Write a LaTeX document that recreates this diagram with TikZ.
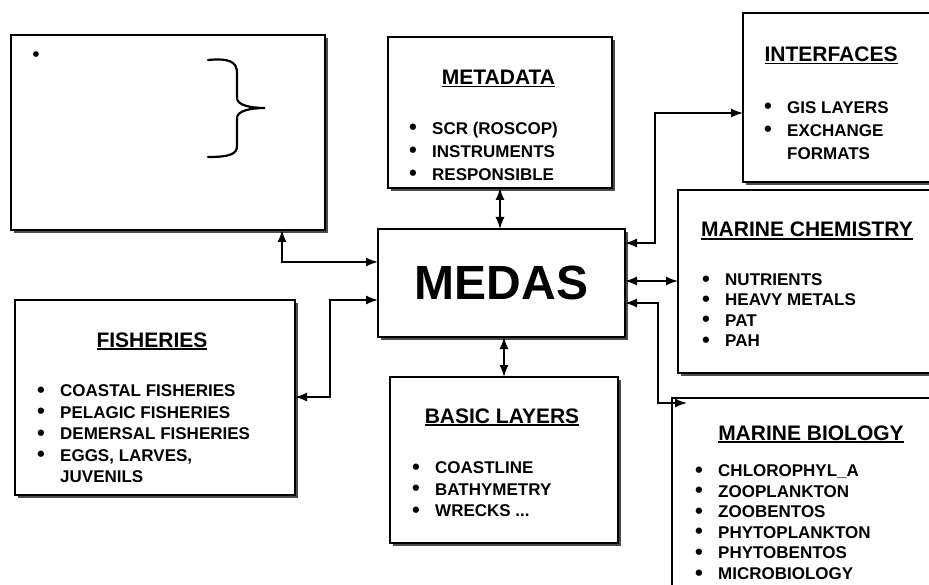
\documentclass[tikz,border=0pt]{standalone}
\usepackage{fontspec}
\setmainfont{Liberation Sans}
\usepackage{tikz}
\usetikzlibrary{arrows.meta,positioning,shadows,calc}

\newlength\hdwd
\newcommand\hdtext[1]{\settowidth\hdwd{#1}#1\llap{\rule[-3pt]{\hdwd}{1.6pt}}}
\newcommand\itm[1]{\makebox[23pt][l]{\raisebox{-0.5pt}{\scalebox{1.3}{\textbullet}}}#1}
\newcommand\cont[1]{\hspace*{23pt}#1}

\begin{document}
\begin{tikzpicture}[
  x=1pt, y=-1pt,
  box/.style={draw=black, line width=1.1pt, fill=white, inner sep=0pt, outer sep=0pt, anchor=north west,
    drop shadow={shadow xshift=3pt, shadow yshift=-3pt, fill=black!70, opacity=1}},
  hd/.style={font=\fontsize{21}{25}\selectfont\bfseries, anchor=base, inner sep=0pt},
  lst/.style={font=\fontsize{17}{#1}\selectfont\bfseries, anchor=base west, align=left, inner sep=0pt},
  arr/.style={{Latex[length=12pt,width=9pt]}-{Latex[length=12pt,width=9pt]}, line width=1.5pt}
]
  \useasboundingbox (0,0) rectangle (929,585);
  \clip (0,0) rectangle (929,585);

  \node[box, minimum width=314pt, minimum height=195pt] (blank) at (11,35) {};
  \node[box, minimum width=224pt, minimum height=151pt] (meta)  at (388,37) {};
  \node[box, minimum width=240pt, minimum height=169pt] (intf)  at (743,13) {};
  \node[box, minimum width=300pt, minimum height=183pt] (chem)  at (678,190) {};
  \node[box, minimum width=300pt, minimum height=250pt] (bio)   at (672,398) {};
  \node[box, minimum width=228pt, minimum height=166pt] (basic) at (390,377) {};
  \node[box, minimum width=280pt, minimum height=195pt] (fish)  at (15,300) {};
  \node[box, minimum width=247pt, minimum height=108pt,
        font=\fontsize{48}{50}\selectfont\bfseries] (medas) at (378,229) {MEDAS};

  \node[font=\fontsize{21}{22}\selectfont] (dot) at (36,57) {\textbullet};
  \draw[line width=2.2pt, line cap=round]
    (208,60) .. controls (230,58) and (237,62) .. (237,73) -- (237,98)
    .. controls (237,105) and (250,108) .. (265,108)
    .. controls (250,108) and (237,111) .. (237,118) -- (237,146)
    .. controls (237,154) and (230,157) .. (208,157);

  \node[hd] (metat)  at (498.5,84.5) {\hdtext{METADATA}};
  \node[hd] (intft)  at (831,61.5)   {\hdtext{INTERFACES}};
  \node[hd] (chemt)  at (807,237)    {\hdtext{MARINE CHEMISTRY}};
  \node[hd] (biot)   at (811,440)    {\hdtext{MARINE BIOLOGY}};
  \node[hd] (basict) at (502,423)    {\hdtext{BASIC LAYERS}};
  \node[hd] (fisht)  at (152,347)    {\hdtext{FISHERIES}};

  % lists sit on the baseline of their last line
  \node[lst=23] (metal) at (409,180.5)
    {\itm{SCR (ROSCOP)}\\\itm{INSTRUMENTS}\\\itm{RESPONSIBLE}};
  \node[lst=23] (intfl) at (764,159.5)
    {\itm{GIS LAYERS}\\\itm{EXCHANGE}\\\cont{FORMATS}};
  \node[lst=20.3] (cheml) at (702,346.5)
    {\itm{NUTRIENTS}\\\itm{HEAVY METALS}\\\itm{PAT}\\\itm{PAH}};
  \node[lst=20.6] (biol) at (695,579.5)
    {\itm{CHLOROPHYL\_A}\\\itm{ZOOPLANKTON}\\\itm{ZOOBENTOS}\\\itm{PHYTOPLANKTON}\\\itm{PHYTOBENTOS}\\\itm{MICROBIOLOGY}};
  \node[lst=21.5] (basicl) at (412,516.5)
    {\itm{COASTLINE}\\\itm{BATHYMETRY}\\\itm{WRECKS ...}};
  \node[lst=21.5] (fishl) at (37,482.5)
    {\itm{COASTAL FISHERIES}\\\itm{PELAGIC FISHERIES}\\\itm{DEMERSAL FISHERIES}\\\itm{EGGS, LARVES,}\\\cont{JUVENILS}};

  \draw[arr] ([xshift=-43pt]blank.south east) |- ([yshift=-33pt]medas.north west);
  \draw[arr] ([yshift=-97pt]fish.north east) -- ++(35,0) |- ([yshift=-71pt]medas.north west);
  \draw[arr] (meta.south) -- (meta.south |- medas.north);
  \draw[arr] (medas.south -| basic.north) -- (basic.north);
  \draw[arr] ([yshift=-14pt]medas.north east) -- ++(30,0) |- ([yshift=-100pt]intf.north west);
  \coordinate (mc) at ([yshift=-52pt]medas.north east);
  \draw[arr] (mc) -- (mc -| chem.west);
  \draw[arr] ([yshift=-74pt]medas.north east) -- ++(33,0) |- ([xshift=15pt,yshift=-5pt]bio.north west);
\end{tikzpicture}
\end{document}
